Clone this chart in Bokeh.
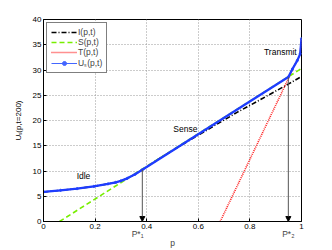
import math
from bokeh.plotting import figure
from bokeh.models import (Label, Arrow, NormalHead, FixedTicker, NumeralTickFormatter,
                          Legend, LegendItem, ColumnDataSource, LinearAxis)
from bokeh.embed import file_html
from bokeh.resources import INLINE

# ---- data ----
p_us = [0, 0.066, 0.13, 0.195, 0.25, 0.28, 0.30, 0.325, 0.355, 0.383, 0.949, 0.965, 0.984, 0.995, 1.0]
us_vals = [5.85, 6.17, 6.5, 6.95, 7.45, 7.75, 8.05, 8.55, 9.35, 10.25, 28.6, 30.2, 31.9, 33.2, 36.2]

p_i = [0, 0.066, 0.13, 0.195, 0.25, 0.28, 0.30, 0.325, 0.355, 0.383, 0.45, 0.55, 0.65, 0.75, 0.85, 0.952, 1.0]
i_vals = [5.85, 6.17, 6.5, 6.95, 7.45, 7.75, 8.05, 8.55, 9.35, 10.25, 12.5, 15.6, 18.6, 21.6, 24.4, 27.3, 28.7]

p_s = [0.062, 1.0]
s_vals = [0, 30.3]

p_t = [0.685, 0.952, 0.965, 0.984, 0.995, 1.0]
t_vals = [0, 28.6, 30.2, 31.9, 33.2, 36.2]

p_star = [0.383, 0.949]
p_star_top = [10.25, 28.6]
p_star_labels = ["P*\u2081\u00a0\u00a0\u00a0\u00a0", "P*\u2082"]

x_ticks = [0, 0.2, 0.4, 0.6, 0.8, 1.0]
y_ticks = [0, 5, 10, 15, 20, 25, 30, 35, 40]
y_title = "U\u209b(p,t=200)"

FONT = "Liberation Sans"

p = figure(width=332, height=250, x_range=(0, 1), y_range=(0, 40),
           output_backend="svg", toolbar_location=None,
           min_border_left=43, min_border_right=31, min_border_top=19, min_border_bottom=28)
p.background_fill_color = "white"
p.border_fill_color = "white"
p.outline_line_color = "black"
p.outline_line_width = 1

for ax in (p.xaxis[0], p.yaxis[0]):
    ax.major_tick_in = 3
    ax.major_tick_out = 0
    ax.minor_tick_line_color = None
    ax.major_label_text_font = FONT
    ax.major_label_text_font_size = "8px"
    ax.major_label_text_color = "black"
    ax.major_label_standoff = 2
    ax.axis_line_color = "black"
p.xaxis[0].ticker = FixedTicker(ticks=x_ticks)
p.xaxis[0].formatter = NumeralTickFormatter(format="0.[0]")
p.yaxis[0].ticker = FixedTicker(ticks=y_ticks)
p.xgrid[0].ticker = FixedTicker(ticks=x_ticks)
p.ygrid[0].ticker = FixedTicker(ticks=y_ticks)

# outer left axis carrying the rotated y title as a single tick label
ylab = LinearAxis(ticker=FixedTicker(ticks=[20]),
                  major_label_overrides={20: y_title})
ylab.axis_line_color = None
ylab.major_tick_line_color = None
ylab.minor_tick_line_color = None
ylab.major_tick_in = 0
ylab.major_tick_out = 0
ylab.major_label_orientation = "vertical"
ylab.major_label_standoff = 7
ylab.major_label_text_font = FONT
ylab.major_label_text_font_size = "8px"
ylab.major_label_text_color = "black"
p.add_layout(ylab, "left")

# second bottom axis carrying the P* marks and the "p" label
ax2 = LinearAxis(ticker=FixedTicker(ticks=p_star),
                 major_label_overrides=dict(zip(p_star, p_star_labels)))
ax2.axis_line_color = None
ax2.major_tick_line_color = None
ax2.minor_tick_line_color = None
ax2.major_tick_in = 0
ax2.major_tick_out = 0
ax2.major_label_standoff = -3
ax2.major_label_text_font = FONT
ax2.major_label_text_font_size = "8.5px"
ax2.axis_label = "p"
ax2.axis_label_text_font = FONT
ax2.axis_label_text_font_size = "8.5px"
ax2.axis_label_text_font_style = "normal"
ax2.axis_label_standoff = -4
p.add_layout(ax2, "below")

for g in (p.xgrid[0], p.ygrid[0]):
    g.grid_line_color = "#999999"
    g.grid_line_dash = "1 2"
    g.grid_line_width = 1

r_i = p.line(p_i, i_vals, line_color="black", line_width=1.6, line_dash="5 2 1 2")
r_s = p.line(p_s, s_vals, line_color="#77ee00", line_width=1.6, line_dash="5 3")
r_t = p.line(p_t, t_vals, line_color="#ff2020", line_width=1.6, line_dash="1 1")

arrows = ColumnDataSource(dict(x=p_star, y0=p_star_top, y1=[0, 0]))
p.add_layout(Arrow(end=NormalHead(size=5, fill_color="black", line_color="black"),
                   x_start="x", y_start="y0", x_end="x", y_end="y1", source=arrows,
                   line_color="#555555", line_width=1))

# thin line + markers (used by the legend), covered by the thick curve
r_uthin = p.line(p_us, us_vals, line_color="#4466ff", line_width=1)
r_um = p.scatter(p_us, us_vals, marker="circle", size=2.2, fill_color="#4466ff", line_color="#4466ff")
r_u = p.line(p_us, us_vals, line_color="#1e3cff", line_width=2.3)

legend = Legend(items=[
    LegendItem(label="I(p,t)", renderers=[r_i]),
    LegendItem(label="S(p,t)", renderers=[r_s]),
    LegendItem(label="T(p,t)", renderers=[r_t]),
    LegendItem(label="U\u209b(p,t)", renderers=[r_uthin, r_um]),
], location="top_left")
legend.margin = 3
legend.padding = 4
legend.spacing = 0
legend.label_height = 10
legend.glyph_height = 10
legend.glyph_width = 26
legend.label_standoff = 1
legend.label_text_font = FONT
legend.label_text_font_size = "8.5px"
legend.border_line_color = "black"
legend.border_line_width = 1
legend.background_fill_alpha = 1
p.add_layout(legend)

def lab(x, y, t, size="8.5px"):
    p.add_layout(Label(x=x, y=y, text=t, text_font=FONT, text_font_size=size,
                       text_align="center", text_baseline="middle", text_color="black"))

lab(0.155, 9.0, "Idle")
lab(0.55, 18.3, "Sense")
lab(0.918, 33.5, "Transmit")

open("out.html", "w").write(file_html(p, INLINE))
